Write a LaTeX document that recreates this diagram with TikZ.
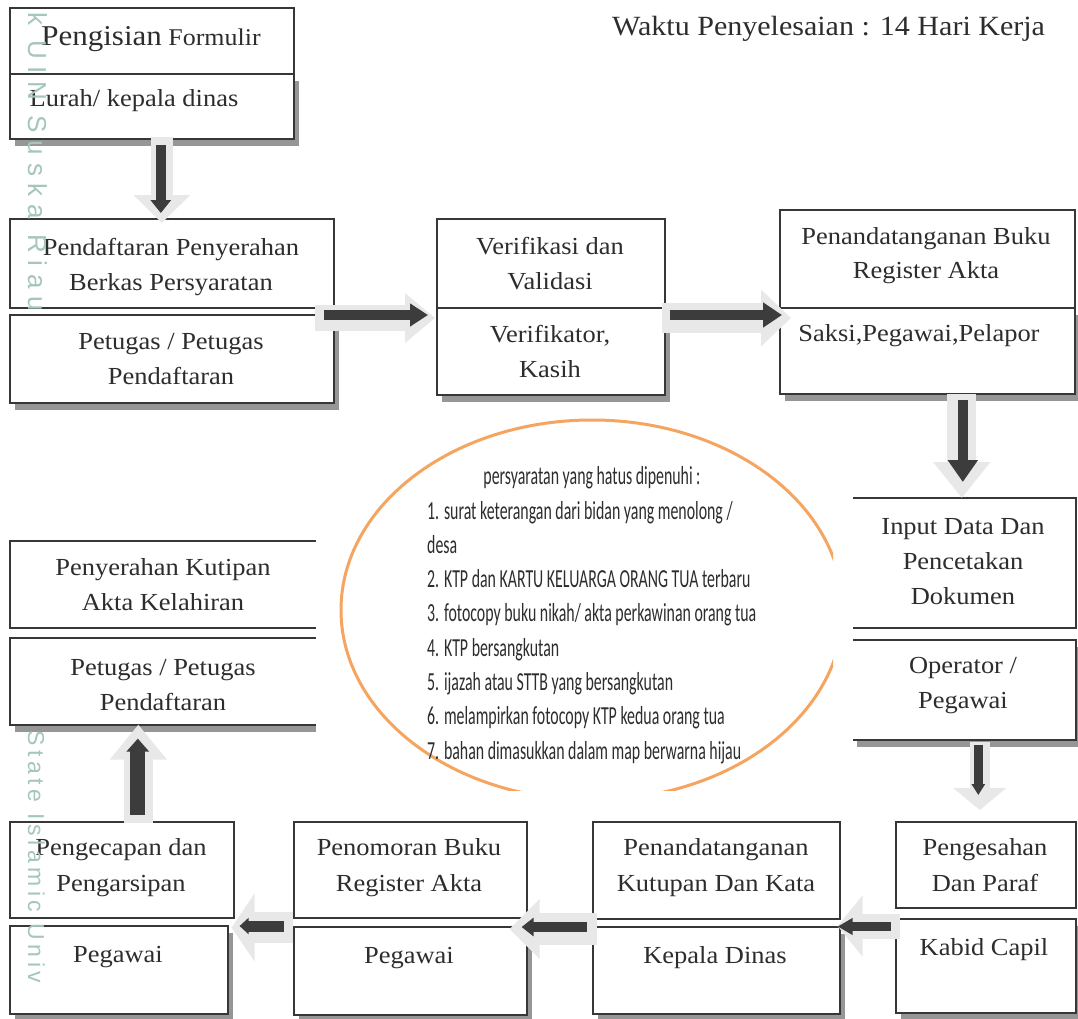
\documentclass[tikz,border=0pt]{standalone}
\usepackage{fontspec}
\setmainfont[FakeStretch=1.08]{Liberation Serif}
\newfontfamily\calib[FakeStretch=0.61]{Carlito}
\newfontfamily\wmfont[LetterSpace=30]{Liberation Sans}
\newfontfamily\wmfontb[LetterSpace=20]{Liberation Sans}
\usetikzlibrary{arrows.meta,shadows,calc}
\definecolor{boxline}{RGB}{55,55,55}
\definecolor{txtc}{RGB}{45,45,45}
\definecolor{shad}{RGB}{150,150,150}
\definecolor{darkar}{RGB}{60,60,60}
\definecolor{lightar}{RGB}{232,232,232}
\definecolor{orng}{RGB}{245,165,95}
\definecolor{wmc}{RGB}{165,198,186}
\tikzset{
  box/.style={draw=boxline, line width=1.6pt, fill=white, inner sep=0pt, anchor=north west},
  sbox/.style={box, drop shadow={shadow xshift=5pt, shadow yshift=-7pt, fill=shad, opacity=1}},
  txt/.style={anchor=base, inner sep=0pt, text=txtc, font=\fontsize{24.5}{30}\selectfont},
  ltx/.style={anchor=base west, inner sep=0pt, text=txtc, font=\calib\fontsize{26}{30}\selectfont},
  darr/.style n args={3}{draw=darkar, line width=#1pt, -{Triangle[length=#2pt,width=#3pt]}},
  larr/.style n args={3}{draw=lightar, line width=#1pt, -{Triangle[length=#2pt,width=#3pt]}},
  wmark/.style={anchor=base west, rotate=-90, inner sep=0pt, text=wmc}
}
\begin{document}
\begin{tikzpicture}[x=1pt,y=-1pt]
\useasboundingbox (0,0) rectangle (1078,1018);
\fill[white] (0,0) rectangle (1078,1018);

% ---- boxes ----
\node[box,  minimum width=284pt, minimum height=66pt] (b1u) at (9,7) {};
\node[sbox, minimum width=284pt, minimum height=65pt] (b1l) at (9,73) {};
\node[box,  minimum width=324pt, minimum height=89pt] (b2u) at (9,218) {};
\node[sbox, minimum width=324pt, minimum height=88pt] (b2l) at (9,314) {};
\node[box,  minimum width=228pt, minimum height=89pt] (b3u) at (436,218) {};
\node[sbox, minimum width=228pt, minimum height=87pt] (b3l) at (436,307) {};
\node[box,  minimum width=295pt, minimum height=98pt] (b4u) at (779,209) {};
\node[sbox, minimum width=295pt, minimum height=86pt] (b4l) at (779,307) {};
\node[box,  minimum width=224pt, minimum height=130pt] (b5u) at (851,497) {};
\node[sbox, minimum width=224pt, minimum height=100pt] (b5l) at (851,639) {};
\node[box,  minimum width=324pt, minimum height=87pt] (b6u) at (9,540) {};
\node[sbox, minimum width=324pt, minimum height=87pt] (b6l) at (9,637) {};
\node[box,  minimum width=180pt, minimum height=86pt] (b7u) at (895,821) {};
\node[sbox, minimum width=180pt, minimum height=94pt] (b7l) at (895,918) {};
\node[box,  minimum width=247pt, minimum height=97pt] (b8u) at (592,821) {};
\node[sbox, minimum width=247pt, minimum height=87pt] (b8l) at (592,926) {};
\node[box,  minimum width=233pt, minimum height=96pt] (b9u) at (293,821) {};
\node[sbox, minimum width=233pt, minimum height=88pt] (b9l) at (293,926) {};
\node[box,  minimum width=224pt, minimum height=96pt] (b10u) at (9,821) {};
\node[sbox, minimum width=218pt, minimum height=88pt] (b10l) at (9,925) {};

% ---- box texts ----
\node[txt] (t1u) at (151,45) {{\fontsize{28.7}{30}\selectfont Pengisian} {\fontsize{24}{30}\selectfont Formulir}};
\node[txt] (t1l) at (134,106) {Lurah/ kepala dinas};
\node[txt] (t2a) at (171,255) {Pendaftaran Penyerahan};
\node[txt] (t2b) at (171,290) {Berkas Persyaratan};
\node[txt] (t2c) at (171,349) {Petugas / Petugas};
\node[txt] (t2d) at (171,384) {Pendaftaran};
\node[txt] (t3a) at (550,254) {Verifikasi dan};
\node[txt] (t3b) at (550,289) {Validasi};
\node[txt] (t3c) at (550,342) {Verifikator,};
\node[txt] (t3d) at (550,377) {Kasih};
\node[txt] (t4a) at (926,244) {Penandatanganan Buku};
\node[txt] (t4b) at (926,278) {Register Akta};
\node[txt] (t4c) at (919,341) {Saksi,Pegawai,Pelapor};
\node[txt] (t5a) at (963,534) {Input Data Dan};
\node[txt] (t5b) at (963,569) {Pencetakan};
\node[txt] (t5c) at (963,604) {Dokumen};
\node[txt] (t5d) at (963,673) {Operator /};
\node[txt] (t5e) at (963,708) {Pegawai};
\node[txt] (t6a) at (163,575) {Penyerahan Kutipan};
\node[txt] (t6b) at (163,610) {Akta Kelahiran};
\node[txt] (t6c) at (163,675) {Petugas / Petugas};
\node[txt] (t6d) at (163,710) {Pendaftaran};
\node[txt] (t7a) at (985,855) {Pengesahan};
\node[txt] (t7b) at (985,891) {Dan Paraf};
\node[txt] (t7c) at (984,955) {Kabid Capil};
\node[txt] (t8a) at (716,855) {Penandatanganan};
\node[txt] (t8b) at (716,891) {Kutupan Dan Kata};
\node[txt] (t8c) at (715,963) {Kepala Dinas};
\node[txt] (t9a) at (409,855) {Penomoran Buku};
\node[txt] (t9b) at (409,891) {Register Akta};
\node[txt] (t9c) at (409,963) {Pegawai};
\node[txt] (t10a) at (121,855) {Pengecapan dan};
\node[txt] (t10b) at (121,891) {Pengarsipan};
\node[txt] (t10c) at (118,962) {Pegawai};

% title
\node[anchor=base west, inner sep=0pt, text=txtc, font=\fontsize{27.8}{30}\selectfont] (title) at (612,35) {Waktu Penyelesaian : 14 Hari Kerja};

% ---- block arrows ----
% down 1
\draw[larr={22}{28}{55}] ($(b1l.south)+(10,-3)$) -- ($(b2u.north)+(-10,5)$);
\draw[darr={10}{13}{20}] ($(b1l.south)+(9,5)$) -- ($(b2u.north)+(-11,-5)$);
% right 1
\draw[larr={26}{30}{48}] ($(b2l.north east)+(-20,4)$) -- ($(b3l.north west)+(-1,11)$);
\draw[darr={10}{18}{22}] ($(b2l.north east)+(-11,1)$) -- ($(b3l.north west)+(-8,8)$);
% right 2
\draw[larr={30}{30}{55}] ($(b3l.north east)+(-4,11)$) -- ($(b4l.north west)+(12,11)$);
\draw[darr={10}{19}{24}] ($(b3l.north east)+(4,8)$) -- ($(b4l.north west)+(3,8)$);
% down 2
\draw[larr={29}{36}{55}] ($(b4l.south)+(34.5,-1)$) -- ($(b5u.north)+(-2,1)$);
\draw[darr={10}{22}{29}] ($(b4l.south)+(35.5,5)$) -- ($(b5u.north)+(-1,-15)$);
% down 3
\draw[larr={20}{22}{52}] ($(b5l.south)+(16,1)$) -- ($(b7u.north)+(-6,-11)$);
\draw[darr={9}{11}{13}] ($(b5l.south)+(14.5,4)$) -- ($(b7u.north)+(-7.5,-26)$);
% left a
\draw[larr={25}{25}{60}] ($(b7l.north west)+(5,8)$) -- ($(b8l.north east)+(-3,0)$);
\draw[darr={9}{15}{16}] ($(b7l.north west)+(-4,8.5)$) -- ($(b8l.north east)+(-3,0.5)$);
% left b
\draw[larr={32}{30}{58}] ($(b8l.north west)+(5,3)$) -- ($(b9l.north east)+(-18,3)$);
\draw[darr={10}{12}{18}] ($(b8l.north west)+(-5,1)$) -- ($(b9l.north east)+(-6,1)$);
% left c
\draw[larr={31}{23}{67}] ($(b9l.north west)+(0,1.5)$) -- ($(b10l.north east)+(3,2.5)$);
\draw[darr={11}{9}{16}] ($(b9l.north west)+(-9,0)$) -- ($(b10l.north east)+(11,1)$);
% up
\draw[larr={29}{35}{55}] ($(b10u.north)+(16.5,2)$) -- ($(b6l.south)+(-33.5,-1)$);
\draw[darr={15}{13}{22}] ($(b10u.north)+(16,-6)$) -- ($(b6l.south)+(-34,13)$);

% ---- requirement ellipse (text box) ----
\fill[white] (316,415) rectangle (853,795);
\begin{scope}
  \clip (316,410) rectangle (833,790);
  \draw[orng, line width=3pt] (592,610) ellipse [x radius=251, y radius=190];
\end{scope}
\node[ltx, anchor=base] (req) at (592,484) {persyaratan yang hatus dipenuhi :};
\node[ltx] (r1) at (427,519) {1. surat keterangan dari bidan yang menolong /};
\node[ltx] (r1b) at (427,553.3) {desa};
\node[ltx] (r2) at (427,587.6) {2. KTP dan KARTU KELUARGA ORANG TUA terbaru};
\node[ltx] (r3) at (427,621.9) {3. fotocopy buku nikah/ akta perkawinan orang tua};
\node[ltx] (r4) at (427,656.2) {4. KTP bersangkutan};
\node[ltx] (r5) at (427,690.5) {5. ijazah atau STTB yang bersangkutan};
\node[ltx] (r6) at (427,724.8) {6. melampirkan fotocopy KTP kedua orang tua};
\node[ltx] (r7) at (427,759.1) {7. bahan dimasukkan dalam map berwarna hijau};

% ---- watermark text ----
\node[wmark, font=\wmfont\fontsize{26}{30}\selectfont] (wm1) at (28,12) {k UIN Suska Riau};
\node[wmark, font=\wmfontb\fontsize{23}{30}\selectfont] (wm2) at (28,730) {State Islamic Univ};
\end{tikzpicture}
\end{document}
